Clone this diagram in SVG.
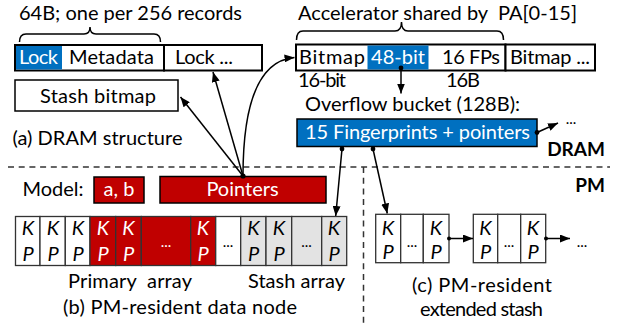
<svg xmlns="http://www.w3.org/2000/svg" width="618" height="326" viewBox="0 0 618 326">
<defs>
<marker id="ah" viewBox="0 0 10 8" refX="10" refY="4" markerWidth="10" markerHeight="8" markerUnits="userSpaceOnUse" orient="auto">
<path d="M0,0 L10,4 L0,8 Z" fill="#000"/>
</marker>
<style>
text{font-family:Lato,"Open Sans","Liberation Sans",sans-serif;font-size:20px;fill:#000}
.w{fill:#fff}
.c{text-anchor:middle}
.b{font-weight:bold;font-size:19px}
.kp{font-style:italic;font-size:20px;text-anchor:middle}
.box{stroke:#000;stroke-width:2;fill:#fff}
.thin{stroke:#000;stroke-width:1.5}
.cell{stroke:#333;stroke-width:1.3}
.blue{fill:#0070C0}
.red{fill:#C00000}
.grey{fill:#E3E3E3}
.wh{fill:#fff}
.ln{stroke:#000;stroke-width:1.5;fill:none}
.dash{stroke:#333;stroke-width:1.5;stroke-dasharray:6,4.7;fill:none}
.ell{font-size:15px;text-anchor:middle}
</style>
</defs>

<g id="dividers">
<line class="dash" x1="8" y1="167" x2="610" y2="167"/>
<line class="dash" x1="363.5" y1="167" x2="363.5" y2="326"/>
</g>

<g id="labels">
<text x="19" y="20" textLength="223">64B; one per 256 records</text>
<path class="ln" d="M19.5,42 Q19.5,34 26,34 L84,34 Q90,34 90,27 Q90,34 96,34 L154,34 Q160.5,34 160.5,42"/>
<text x="298" y="20" textLength="279">Accelerator shared by&#160; PA[0-15]</text>
<path class="ln" d="M296.5,40 Q296.5,31 303,31 L395,31 Q401.5,31 401.5,22 Q401.5,31 408,31 L497,31 Q503.5,31 503.5,40"/>
<text x="298" y="87" textLength="48">16-bit</text>
<text x="446" y="87" textLength="34">16B</text>
<text x="305" y="111" textLength="215">Overflow bucket (128B):</text>
<text x="12.5" y="145" textLength="170">(a) DRAM structure</text>
<text class="b" x="605" y="156" text-anchor="end">DRAM</text>
<text class="b" x="605" y="192" text-anchor="end">PM</text>
<text x="22.5" y="196" textLength="61">Model:</text>
<text x="68" y="288" textLength="124">Primary&#160; array</text>
<text x="248" y="288" textLength="97">Stash array</text>
<text x="63" y="314" textLength="234">(b) PM-resident data node</text>
<text x="412" y="292" textLength="140">(c) PM-resident</text>
<text x="420" y="316" textLength="123">extended stash</text>
</g>

<g id="lock-metadata">
<rect class="box" x="15" y="45" width="149" height="25.5"/>
<rect class="blue" x="16" y="46" width="46" height="23.5"/>
<text class="w" x="19" y="64" textLength="39">Lock</text>
<text x="69" y="64" textLength="85">Metadata</text>
</g>
<g id="lock-next">
<rect class="box" x="164" y="45" width="98" height="25.5"/>
<text x="175" y="64" textLength="58">Lock ...</text>
</g>
<g id="stash-bitmap">
<rect class="thin" fill="#fff" x="15" y="80" width="163" height="31"/>
<text x="40" y="103" textLength="116">Stash bitmap</text>
</g>

<g id="accelerator">
<rect class="box" x="296" y="44.5" width="209.5" height="26"/>
<rect class="blue" x="367.5" y="45.5" width="61" height="24"/>
<text x="299" y="64" textLength="66">Bitmap</text>
<text class="w" x="371" y="64" textLength="54">48-bit</text>
<text x="442" y="64" textLength="58">16 FPs</text>
</g>
<g id="accelerator-next">
<rect class="box" x="505.5" y="44.5" width="89.5" height="26"/>
<text x="510" y="64" textLength="80">Bitmap ...</text>
</g>

<g id="overflow-bucket">
<rect class="thin blue" x="297" y="119" width="240" height="27.5"/>
<text class="w" x="305" y="139" textLength="225">15 Fingerprints + pointers</text>
</g>
<text x="571" y="124" class="ell">...</text>

<g id="model-ab">
<rect class="thin red" x="94" y="177" width="50" height="26"/>
<text class="w c" x="119" y="196">a, b</text>
</g>
<g id="pointers">
<rect class="thin red" x="160" y="176.5" width="166" height="26.5"/>
<text class="w c" x="242.5" y="196">Pointers</text>
</g>

<g id="data-node">
<rect class="cell wh" x="15.5" y="216.5" width="24.5" height="49"/>
<rect class="cell wh" x="40" y="216.5" width="25.3" height="49"/>
<rect class="cell wh" x="65.3" y="216.5" width="24.7" height="49"/>
<rect class="cell red" x="90" y="216.5" width="25.7" height="49"/>
<rect class="cell red" x="115.7" y="216.5" width="25.6" height="49"/>
<rect class="cell red" x="141.3" y="216.5" width="49.4" height="49"/>
<rect class="cell red" x="190.7" y="216.5" width="25" height="49"/>
<rect class="cell wh" x="215.7" y="216.5" width="25" height="49"/>
<rect class="cell grey" x="240.7" y="216.5" width="25.3" height="49"/>
<rect class="cell grey" x="266" y="216.5" width="25.7" height="49"/>
<rect class="cell grey" x="291.7" y="216.5" width="30" height="49"/>
<rect class="cell grey" x="321.7" y="216.5" width="25" height="49"/>
<text class="kp" x="28" y="235">K</text><text class="kp" x="28" y="261">P</text>
<text class="kp" x="53" y="235">K</text><text class="kp" x="53" y="261">P</text>
<text class="kp" x="78" y="235">K</text><text class="kp" x="78" y="261">P</text>
<text class="kp w" x="103" y="235">K</text><text class="kp w" x="103" y="261">P</text>
<text class="kp w" x="128.5" y="235">K</text><text class="kp w" x="128.5" y="261">P</text>
<text class="ell w" x="166" y="247">...</text>
<text class="kp w" x="203" y="235">K</text><text class="kp w" x="203" y="261">P</text>
<text class="ell" x="228" y="247">...</text>
<text class="kp" x="253.5" y="235">K</text><text class="kp" x="253.5" y="261">P</text>
<text class="kp" x="279" y="235">K</text><text class="kp" x="279" y="261">P</text>
<text class="ell" x="306.5" y="247">...</text>
<text class="kp" x="334" y="235">K</text><text class="kp" x="334" y="261">P</text>
</g>

<g id="stash-node-1">
<rect class="cell wh" x="375.7" y="214.3" width="25" height="48.4"/>
<rect class="cell wh" x="400.7" y="214.3" width="22.6" height="48.4"/>
<rect class="cell wh" x="423.3" y="214.3" width="25.7" height="48.4"/>
<text class="kp" x="388" y="235">K</text><text class="kp" x="388" y="259">P</text>
<text class="ell" x="412" y="247">...</text>
<text class="kp" x="436" y="235">K</text><text class="kp" x="436" y="259">P</text>
</g>
<g id="stash-node-2">
<rect class="cell wh" x="473.3" y="214.3" width="24.4" height="48.4"/>
<rect class="cell wh" x="497.7" y="214.3" width="23" height="48.4"/>
<rect class="cell wh" x="520.7" y="214.3" width="25" height="48.4"/>
<text class="kp" x="485.5" y="235">K</text><text class="kp" x="485.5" y="259">P</text>
<text class="ell" x="509" y="247">...</text>
<text class="kp" x="533" y="235">K</text><text class="kp" x="533" y="259">P</text>
</g>
<text x="582" y="247" class="ell">...</text>

<g id="connectors">
<circle cx="243" cy="176" r="2.6"/>
<line class="ln" x1="243" y1="176" x2="180.5" y2="97" marker-end="url(#ah)"/>
<line class="ln" x1="243" y1="176" x2="213" y2="72" marker-end="url(#ah)"/>
<path class="ln" d="M243,176 Q243,62 294.5,57.5" marker-end="url(#ah)"/>
<circle cx="401" cy="68" r="2.4"/>
<line class="ln" x1="401" y1="68" x2="401" y2="93.5" marker-end="url(#ah)"/>
<circle cx="537" cy="132.5" r="2.4"/>
<line class="ln" x1="537" y1="132.5" x2="558" y2="123" marker-end="url(#ah)"/>
<circle cx="342" cy="149" r="2.4"/>
<line class="ln" x1="342" y1="149" x2="335.7" y2="216" marker-end="url(#ah)"/>
<circle cx="373" cy="149" r="2.4"/>
<line class="ln" x1="373" y1="149" x2="387.3" y2="213.5" marker-end="url(#ah)"/>
<circle cx="449" cy="238.5" r="2"/>
<line class="ln" x1="449" y1="238.5" x2="473" y2="238.5" marker-end="url(#ah)"/>
<circle cx="546" cy="238.5" r="2"/>
<line class="ln" x1="546" y1="238.5" x2="570" y2="238.5" marker-end="url(#ah)"/>
</g>
</svg>
